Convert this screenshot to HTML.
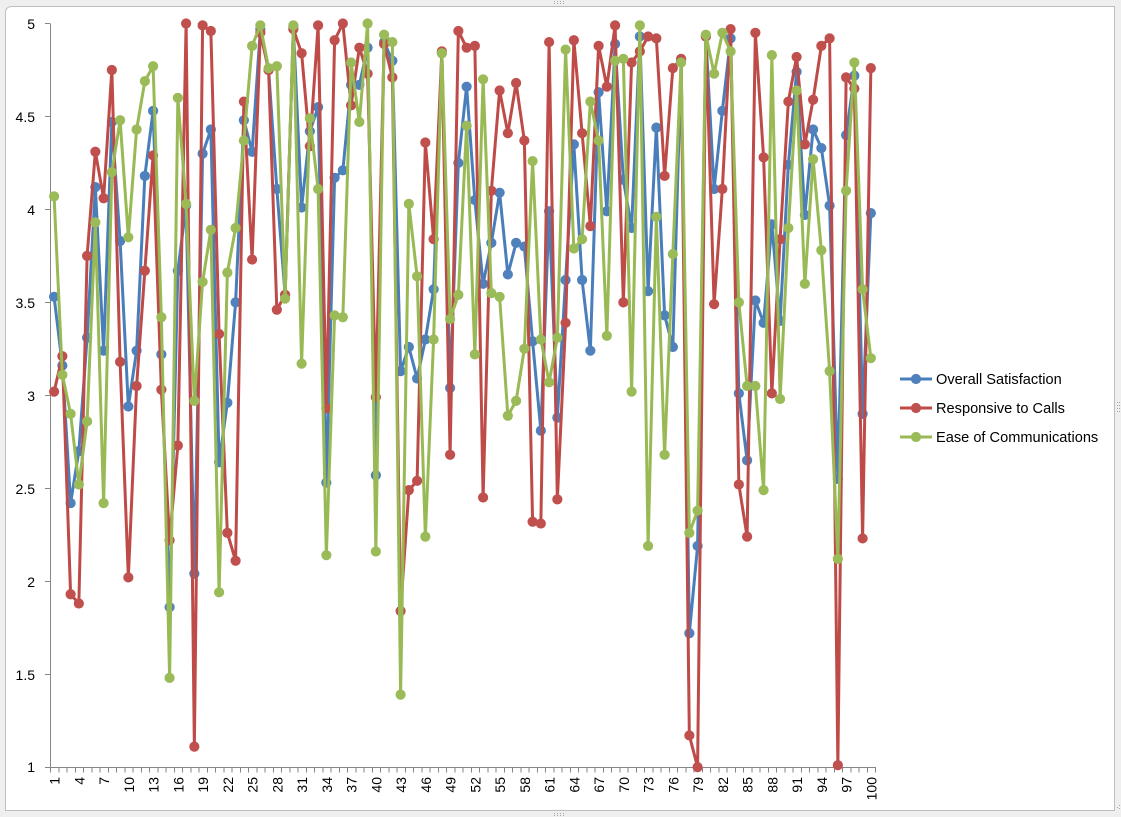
<!DOCTYPE html>
<html>
<head>
<meta charset="utf-8">
<style>
  html,body{margin:0;padding:0;background:#efefef;}
  svg{display:block;}
  text{font-family:"Liberation Sans",Arial,sans-serif;font-size:14px;fill:#000;}
  .lg{font-size:14.6px;}
</style>
</head>
<body>
<svg width="1121" height="817" viewBox="0 0 1121 817" xmlns="http://www.w3.org/2000/svg">
  <defs>
    <marker id="mb" markerUnits="userSpaceOnUse" markerWidth="12" markerHeight="12" refX="6" refY="6" overflow="visible">
      <circle cx="6" cy="6" r="5.1" fill="#4F81BD"/>
    </marker>
    <marker id="mr" markerUnits="userSpaceOnUse" markerWidth="12" markerHeight="12" refX="6" refY="6" overflow="visible">
      <circle cx="6" cy="6" r="5.1" fill="#C0504D"/>
    </marker>
    <marker id="mg" markerUnits="userSpaceOnUse" markerWidth="12" markerHeight="12" refX="6" refY="6" overflow="visible">
      <circle cx="6" cy="6" r="5.1" fill="#9BBB59"/>
    </marker>
  </defs>

  <!-- window background -->
  <rect x="0" y="0" width="1121" height="817" fill="#efefef"/>
  <path d="M5.5,13 Q5.5,6.5 12,6.5 H1114.5 V810.5 H5.5 Z" fill="#ffffff" stroke="#bdbdbd" stroke-width="1"/>
  <!-- resize handles -->
  <g fill="#a8a8a8">
    <rect x="554" y="1" width="1" height="1"/><rect x="557" y="1" width="1" height="1"/><rect x="560" y="1" width="1" height="1"/><rect x="563" y="1" width="1" height="1"/>
    <rect x="554" y="3" width="1" height="1"/><rect x="557" y="3" width="1" height="1"/><rect x="560" y="3" width="1" height="1"/><rect x="563" y="3" width="1" height="1"/>
    <rect x="554" y="813" width="1" height="1"/><rect x="557" y="813" width="1" height="1"/><rect x="560" y="813" width="1" height="1"/><rect x="563" y="813" width="1" height="1"/>
    <rect x="554" y="815" width="1" height="1"/><rect x="557" y="815" width="1" height="1"/><rect x="560" y="815" width="1" height="1"/><rect x="563" y="815" width="1" height="1"/>
    <rect x="1117" y="402" width="1" height="1"/><rect x="1117" y="405" width="1" height="1"/><rect x="1117" y="408" width="1" height="1"/><rect x="1117" y="411" width="1" height="1"/>
    <rect x="1119" y="402" width="1" height="1"/><rect x="1119" y="405" width="1" height="1"/><rect x="1119" y="408" width="1" height="1"/><rect x="1119" y="411" width="1" height="1"/>
    <rect x="1117" y="807" width="1" height="1"/><rect x="1119" y="805" width="1" height="1"/><rect x="1119" y="808" width="1" height="1"/>
  </g>

  <!-- axes -->
  <g stroke="#868686" stroke-width="1" fill="none" shape-rendering="crispEdges">
    <line x1="50.5" y1="23.5" x2="50.5" y2="767.5"/>
    <line x1="50" y1="767.5" x2="876" y2="767.5"/>
    <path d="M45,23.5 H50 M45,116.5 H50 M45,209.5 H50 M45,302.5 H50 M45,395.5 H50 M45,488.5 H50 M45,581.5 H50 M45,674.5 H50 M45,767.5 H50"/>
    <line x1="50" y1="770" x2="876" y2="770" stroke-width="5" stroke-dasharray="1 7.25"/>
  </g>

  <!-- y labels -->
  <g text-anchor="end">
    <text x="35" y="29">5</text>
    <text x="35" y="122">4.5</text>
    <text x="35" y="215">4</text>
    <text x="35" y="308">3.5</text>
    <text x="35" y="401">3</text>
    <text x="35" y="494">2.5</text>
    <text x="35" y="587">2</text>
    <text x="35" y="680">1.5</text>
    <text x="35" y="772">1</text>
  </g>

  <!-- x labels -->
  <g text-anchor="end">
    <text transform="translate(59.6,777) rotate(-90)">1</text>
    <text transform="translate(84.35,777) rotate(-90)">4</text>
    <text transform="translate(109.1,777) rotate(-90)">7</text>
    <text transform="translate(133.85,777) rotate(-90)">10</text>
    <text transform="translate(158.6,777) rotate(-90)">13</text>
    <text transform="translate(183.35,777) rotate(-90)">16</text>
    <text transform="translate(208.1,777) rotate(-90)">19</text>
    <text transform="translate(232.85,777) rotate(-90)">22</text>
    <text transform="translate(257.6,777) rotate(-90)">25</text>
    <text transform="translate(282.35,777) rotate(-90)">28</text>
    <text transform="translate(307.1,777) rotate(-90)">31</text>
    <text transform="translate(331.85,777) rotate(-90)">34</text>
    <text transform="translate(356.6,777) rotate(-90)">37</text>
    <text transform="translate(381.35,777) rotate(-90)">40</text>
    <text transform="translate(406.1,777) rotate(-90)">43</text>
    <text transform="translate(430.85,777) rotate(-90)">46</text>
    <text transform="translate(455.6,777) rotate(-90)">49</text>
    <text transform="translate(480.35,777) rotate(-90)">52</text>
    <text transform="translate(505.1,777) rotate(-90)">55</text>
    <text transform="translate(529.85,777) rotate(-90)">58</text>
    <text transform="translate(554.6,777) rotate(-90)">61</text>
    <text transform="translate(579.35,777) rotate(-90)">64</text>
    <text transform="translate(604.1,777) rotate(-90)">67</text>
    <text transform="translate(628.85,777) rotate(-90)">70</text>
    <text transform="translate(653.6,777) rotate(-90)">73</text>
    <text transform="translate(678.35,777) rotate(-90)">76</text>
    <text transform="translate(703.1,777) rotate(-90)">79</text>
    <text transform="translate(727.85,777) rotate(-90)">82</text>
    <text transform="translate(752.6,777) rotate(-90)">85</text>
    <text transform="translate(777.35,777) rotate(-90)">88</text>
    <text transform="translate(802.1,777) rotate(-90)">91</text>
    <text transform="translate(826.85,777) rotate(-90)">94</text>
    <text transform="translate(851.6,777) rotate(-90)">97</text>
    <text transform="translate(876.35,777) rotate(-90)">100</text>
  </g>

  <!-- data series -->
  <g transform="matrix(1,0,0,0.99812,0,1.54)" fill="none" stroke-width="3" stroke-linejoin="round">
    <polyline stroke="#4A7EBB" marker-start="url(#mb)" marker-mid="url(#mb)" marker-end="url(#mb)" points="54.1,295.8 62.35,364.7 70.6,502.5 78.85,450.4 87.1,336.8 95.35,185.9 103.6,349.8 111.85,120.7 120.1,239.9 128.35,405.7 136.6,349.8 144.85,174.7 153.1,109.5 161.35,353.5 169.6,606.8 177.85,269.7 186.1,204.5 194.35,573.3 202.6,152.4 210.85,128.2 219.1,461.6 227.35,402 235.6,301.4 243.85,118.9 252.1,150.5 260.35,27.6 268.6,68.6 276.85,187.8 285.1,293.9 293.35,25.7 301.6,206.4 309.85,130 318.1,105.8 326.35,482 334.6,176.6 342.85,169.1 351.1,83.5 359.35,83.5 367.6,46.2 375.85,474.6 384.1,40.6 392.35,59.3 400.6,370.3 408.85,346.1 417.1,377.7 425.35,338.6 433.6,288.3 441.85,51.8 450.1,387.1 458.35,161.7 466.6,85.3 474.85,198.9 483.1,282.8 491.35,241.8 499.6,191.5 507.85,273.4 516.1,241.8 524.35,245.5 532.6,340.5 540.85,429.9 549.1,210.1 557.35,416.9 565.6,279 573.85,143.1 582.1,279 590.35,349.8 598.6,90.9 606.85,210.1 615.1,42.5 623.35,178.5 631.6,226.9 639.85,35 648.1,290.2 656.35,126.3 664.6,314.4 672.85,346.1 681.1,59.3 689.35,632.9 697.6,545.4 705.85,35 714.1,187.8 722.35,109.5 730.6,36.9 738.85,392.6 747.1,459.7 755.35,299.5 763.6,321.9 771.85,223.2 780.1,320 788.35,163.6 796.6,70.4 804.85,213.8 813.1,128.2 821.35,146.8 829.6,204.5 837.85,478.3 846.1,133.8 854.35,74.2 862.6,413.1 870.85,212"/>
    <polyline stroke="#BE4B48" marker-start="url(#mr)" marker-mid="url(#mr)" marker-end="url(#mr)" points="54.1,390.8 62.35,355.4 70.6,593.8 78.85,603.1 87.1,254.8 95.35,150.5 103.6,197.1 111.85,68.6 120.1,361 128.35,577 136.6,385.2 144.85,269.7 153.1,154.2 161.35,388.9 169.6,539.8 177.85,444.8 186.1,22 194.35,746.5 202.6,23.9 210.85,29.5 219.1,333 227.35,532.3 235.6,560.3 243.85,100.2 252.1,258.5 260.35,31.3 268.6,68.6 276.85,308.8 285.1,293.9 293.35,27.6 301.6,51.8 309.85,144.9 318.1,23.9 326.35,407.5 334.6,38.8 342.85,22 351.1,104 359.35,46.2 367.6,72.3 375.85,396.4 384.1,42.5 392.35,76 400.6,610.6 408.85,489.5 417.1,480.2 425.35,141.2 433.6,238.1 441.85,49.9 450.1,454.1 458.35,29.5 466.6,46.2 474.85,44.4 483.1,496.9 491.35,189.6 499.6,89.1 507.85,131.9 516.1,81.6 524.35,139.3 532.6,521.2 540.85,523 549.1,40.6 557.35,498.8 565.6,321.9 573.85,38.8 582.1,131.9 590.35,225 598.6,44.4 606.85,85.3 615.1,23.9 623.35,301.4 631.6,61.1 639.85,49.9 648.1,35 656.35,36.9 664.6,174.7 672.85,66.7 681.1,57.4 689.35,735.3 697.6,767 705.85,35 714.1,303.2 722.35,187.8 730.6,27.6 738.85,483.9 747.1,536.1 755.35,31.3 763.6,156.1 771.85,392.6 780.1,238.1 788.35,100.2 796.6,55.5 804.85,143.1 813.1,98.4 821.35,44.4 829.6,36.9 837.85,765.1 846.1,76 854.35,87.2 862.6,537.9 870.85,66.7"/>
    <polyline stroke="#98B954" marker-start="url(#mg)" marker-mid="url(#mg)" marker-end="url(#mg)" points="54.1,195.2 62.35,374 70.6,413.1 78.85,483.9 87.1,420.6 95.35,221.3 103.6,502.5 111.85,171 120.1,118.9 128.35,236.2 136.6,128.2 144.85,79.7 153.1,64.8 161.35,316.3 169.6,677.6 177.85,96.5 186.1,202.7 194.35,400.1 202.6,280.9 210.85,228.7 219.1,591.9 227.35,271.6 235.6,226.9 243.85,139.3 252.1,44.4 260.35,23.9 268.6,66.7 276.85,64.8 285.1,297.7 293.35,23.9 301.6,362.8 309.85,117 318.1,187.8 326.35,554.7 334.6,314.4 342.85,316.3 351.1,61.1 359.35,120.7 367.6,22 375.85,551 384.1,33.2 392.35,40.6 400.6,694.4 408.85,202.7 417.1,275.3 425.35,536.1 433.6,338.6 441.85,51.8 450.1,318.1 458.35,293.9 466.6,124.4 474.85,353.5 483.1,77.9 491.35,292.1 499.6,295.8 507.85,415 516.1,400.1 524.35,347.9 532.6,159.8 540.85,338.6 549.1,381.5 557.35,336.8 565.6,48.1 573.85,247.4 582.1,238.1 590.35,100.2 598.6,139.3 606.85,334.9 615.1,59.3 623.35,57.4 631.6,390.8 639.85,23.9 648.1,545.4 656.35,215.7 664.6,454.1 672.85,253 681.1,61.1 689.35,532.3 697.6,510 705.85,33.2 714.1,72.3 722.35,31.3 730.6,49.9 738.85,301.4 747.1,385.2 755.35,385.2 763.6,489.5 771.85,53.7 780.1,398.2 788.35,226.9 796.6,89.1 804.85,282.8 813.1,158 821.35,249.2 829.6,370.3 837.85,558.4 846.1,189.6 854.35,61.1 862.6,288.3 870.85,357.3"/>
  </g>

  <!-- legend -->
  <g stroke-width="3">
    <line x1="900" y1="379" x2="932" y2="379" stroke="#4A7EBB"/>
    <line x1="900" y1="408" x2="932" y2="408" stroke="#BE4B48"/>
    <line x1="900" y1="437" x2="932" y2="437" stroke="#98B954"/>
  </g>
  <circle cx="916" cy="379" r="5.1" fill="#4F81BD"/>
  <circle cx="916" cy="408" r="5.1" fill="#C0504D"/>
  <circle cx="916" cy="437" r="5.1" fill="#9BBB59"/>
  <text class="lg" x="936" y="384">Overall Satisfaction</text>
  <text class="lg" x="936" y="413">Responsive to Calls</text>
  <text class="lg" x="936" y="442">Ease of Communications</text>
</svg>
</body>
</html>
